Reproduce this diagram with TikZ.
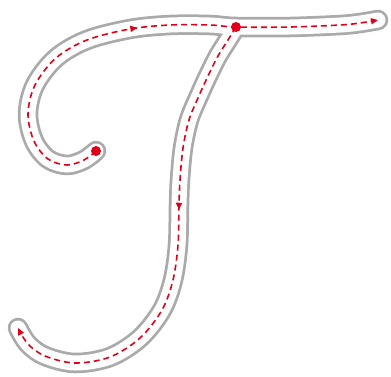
\documentclass[tikz,border=0pt]{standalone}
\usetikzlibrary{arrows.meta,decorations.markings}
\definecolor{outlinegray}{RGB}{170,170,170}
\definecolor{strokered}{RGB}{225,0,25}

% centre lines of the two strokes of the letter
\newcommand\crossstroke{plot[smooth,tension=0.55] coordinates {(96,151) (84,160) (67,165) (48,159) (34,141) (28,114) (35,85) (56,58) (87,40) (130,29) (170,25) (210,25) (236,27) (290,27) (340,25) (360,23) (378,20)}}
\newcommand\stemstroke{plot[smooth,tension=0.55] coordinates {(236,27) (228,40) (218,56) (208,76) (198,98) (189,120) (183,148) (180,180) (179,205) (178,245) (173,280) (162,310) (140,338) (110,357) (75,363) (45,356) (28,344) (18,328)}}

\begin{document}
\begin{tikzpicture}[x=1pt,y=-1pt,
  outline/.style={line width=20.5pt, draw=outlinegray, line cap=round, line join=round},
  hollow/.style={line width=15pt, draw=white, line cap=round, line join=round},
  trace/.style={strokered, line width=1.6pt, dash pattern=on 6pt off 4pt, -{Triangle[length=7pt,width=6pt]}},
  dot/.style={circle, fill=strokered, inner sep=0pt, minimum size=10pt},
  midarrow/.style={postaction={decorate}, decoration={markings,
      mark=at position #1 with {\arrow{Triangle[length=7pt,width=6pt]}}}},
]
\useasboundingbox (0,0) rectangle (391,376);

% letter body
\draw[outline] \crossstroke;
\draw[outline] \stemstroke;
\draw[hollow] \crossstroke;
\draw[hollow] \stemstroke;

% writing order
\draw[trace, midarrow=0.515] \crossstroke;
\draw[trace, midarrow=0.41] \stemstroke;

\node[dot] (start1) at (96,151) {};
\node[dot] (start2) at (236,27) {};
\end{tikzpicture}
\end{document}
